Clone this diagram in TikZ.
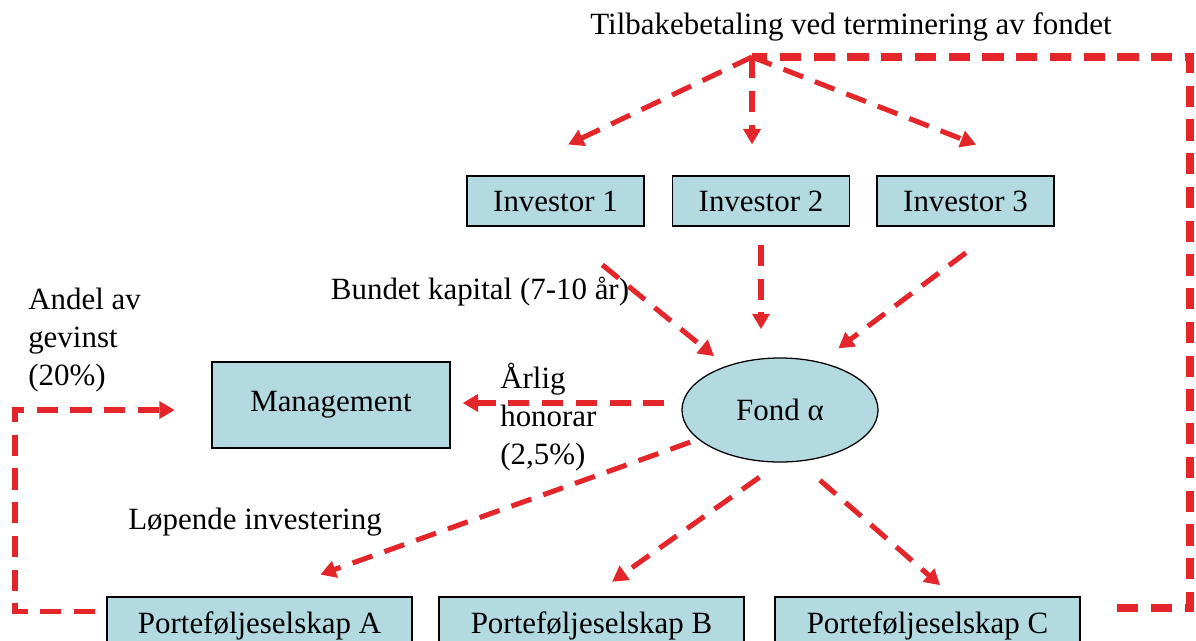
\documentclass[tikz,border=0pt]{standalone}
\usepackage{fontspec}
\setmainfont{Liberation Serif}
\usetikzlibrary{arrows.meta,shapes.geometric}
\definecolor{boxfill}{RGB}{178,218,224}
\definecolor{flowred}{RGB}{228,38,42}
\begin{document}
\begin{tikzpicture}[x=0.025cm,y=-0.025cm,every node/.style={font=\fontsize{22}{27}\selectfont},
  box/.style={draw,fill=boxfill,line width=0.9pt,inner sep=0pt,minimum height=1.25cm,minimum width=4.425cm},
  pbox/.style={box,minimum width=7.625cm,minimum height=1.45cm},
  flow/.style={draw=flowred,line width=3.6pt,dash pattern=on 15pt off 9pt,-{Triangle[length=11pt,width=12pt]}},
  back/.style={draw=flowred,line width=3.6pt,dash pattern=on 15pt off 9pt}]
\useasboundingbox (0,0) rectangle (1196,640);
\clip (0,0) rectangle (1196,640);
\node (title) at (851,27) {Tilbakebetaling ved terminering av fondet};
\coordinate (hub) at (752,57);
\node[box] (inv1) at (555.5,201) {Investor 1};
\node[box] (inv2) at (761,201) {Investor 2};
\node[box] (inv3) at (965.5,201) {Investor 3};
\node[ellipse,draw,fill=boxfill,line width=0.9pt,inner sep=0pt,minimum width=4.9cm,minimum height=2.6cm] (fond) at (780,410) {Fond α};
\node[box,minimum width=5.95cm,minimum height=2.15cm] (mgmt) at (331,405) {Management};
\node[pbox] (pA) at (259.5,626) {Porteføljeselskap A};
\node[pbox] (pB) at (591.5,626) {Porteføljeselskap B};
\node[pbox] (pC) at (927.5,626) {Porteføljeselskap C};
\node (bundet) at (480,292) {Bundet kapital (7-10 år)};
\node[align=left,anchor=west,inner sep=0pt] (andel) at (28,340) {Andel av\\gevinst\\(20\%)};
\node[align=left,anchor=west,inner sep=0pt] (arlig) at (500,417) {Årlig\\honorar\\(2,5\%)};
\node (lopende) at (255,522) {Løpende investering};
\coordinate (rc) at (1190,57);
\coordinate (lc) at (15,410);
\draw[flow,shorten >=51pt] (hub) -- ([xshift=-37pt]inv1.north);
\draw[flow,shorten >=22pt] (hub) -- (hub |- inv2.north);
\draw[flow,shorten >=60pt] (hub) -- (inv3.north east);
\draw[flow,shorten <=43pt,shorten >=11pt] (inv1.south) -- (fond);
\draw[flow,shorten <=13pt,shorten >=20pt] (inv2.south) -- (inv2.south |- fond.north);
\draw[flow,shorten <=31pt,shorten >=16pt] ([xshift=25pt]inv3.south) -- (fond.50);
\draw[flow,shorten <=12pt,shorten >=8.5pt] ([yshift=5pt]fond.west) -- ([yshift=5pt]fond.west -| mgmt.east);
\draw[flow,shorten <=6pt,shorten >=46pt] (fond) -- (pA.north);
\draw[flow,shorten <=18pt,shorten >=18pt] (fond.south) -- (pB.north);
\draw[flow,shorten <=20pt,shorten >=12pt] (fond.290) -- ([xshift=18pt]pC.north);
\draw[back,line width=5.5pt] ([xshift=26pt,yshift=13pt]pC.east) -| (rc) -- (hub);
\draw[flow,shorten >=26pt] ([xshift=-8pt,yshift=10pt]pA.west) -| (lc) -- (lc -| mgmt.west);
\end{tikzpicture}
\end{document}
